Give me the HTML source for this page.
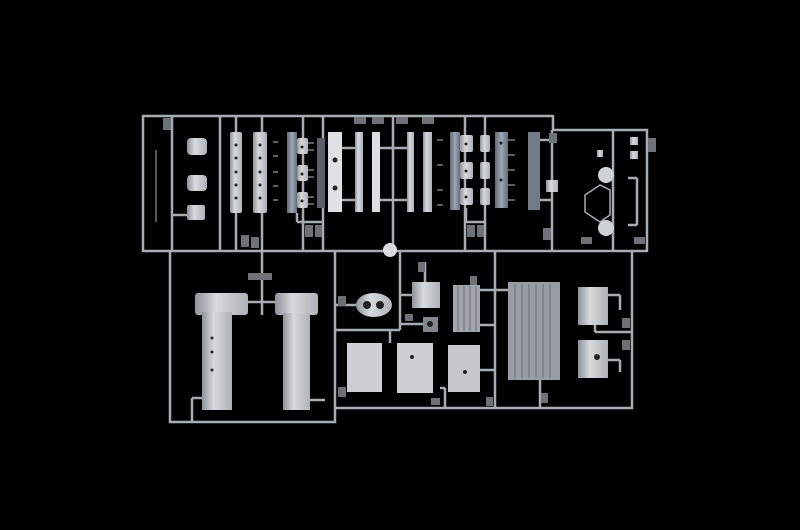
<!DOCTYPE html>
<html><head><meta charset="utf-8"><style>
html,body{margin:0;padding:0;background:#000;width:800px;height:530px;overflow:hidden}
</style></head><body>
<svg width="800" height="530" viewBox="0 0 800 530" xmlns="http://www.w3.org/2000/svg">
<defs>
<linearGradient id="p" x1="0" x2="1"><stop offset="0" stop-color="#8f949a"/><stop offset=".4" stop-color="#d8dadc"/><stop offset="1" stop-color="#aeb2b7"/></linearGradient>
<linearGradient id="b" x1="0" x2="1"><stop offset="0" stop-color="#626a78"/><stop offset=".5" stop-color="#9ea7b5"/><stop offset="1" stop-color="#656d7b"/></linearGradient>
</defs>
<rect width="800" height="530" fill="#000"/>
<g stroke="#a8acb0" stroke-width="2.5" fill="none">
<polyline points="143,252 143,116 553,116 553,130 647,130 647,252"/>
<line x1="143" y1="251" x2="647" y2="251"/>
<line x1="172" y1="116" x2="172" y2="251"/>
<line x1="220" y1="116" x2="220" y2="251"/>
<line x1="236" y1="116" x2="236" y2="132"/><line x1="236" y1="213" x2="236" y2="251"/>
<line x1="262" y1="116" x2="262" y2="251"/>
<line x1="303" y1="116" x2="303" y2="251"/>
<line x1="323" y1="116" x2="323" y2="251"/>
<line x1="393" y1="116" x2="393" y2="251"/>
<line x1="465" y1="116" x2="465" y2="251"/>
<line x1="485" y1="116" x2="485" y2="251"/>
<line x1="552" y1="130" x2="552" y2="251"/>
<line x1="613" y1="130" x2="613" y2="251"/>
<line x1="342" y1="148" x2="355" y2="148"/><line x1="342" y1="200" x2="355" y2="200"/>
<line x1="380" y1="148" x2="407" y2="148"/><line x1="380" y1="200" x2="407" y2="200"/>
<line x1="540" y1="140" x2="552" y2="140"/><line x1="540" y1="200" x2="552" y2="200"/>
<line x1="297" y1="213" x2="297" y2="222"/><line x1="297" y1="222" x2="323" y2="222"/>
<line x1="466" y1="208" x2="466" y2="222"/><line x1="466" y1="222" x2="485" y2="222"/>
<line x1="172" y1="215" x2="187" y2="215"/>
<line x1="628" y1="178" x2="637" y2="178"/><line x1="637" y1="178" x2="637" y2="225"/><line x1="628" y1="225" x2="637" y2="225"/>
<polyline points="170,251 170,422 335,422 335,251"/>
<polyline points="335,408 632,408 632,251"/>
<line x1="495" y1="251" x2="495" y2="408"/>
<line x1="335" y1="330" x2="400" y2="330"/>
<line x1="400" y1="252" x2="400" y2="330"/>
<line x1="262" y1="252" x2="262" y2="315"/>
<line x1="248" y1="302" x2="275" y2="302"/>
<line x1="335" y1="305" x2="357" y2="305"/>
<line x1="400" y1="295" x2="412" y2="295"/>
<line x1="400" y1="324" x2="423" y2="324"/>
<line x1="425" y1="262" x2="425" y2="282"/>
<line x1="480" y1="290" x2="495" y2="290"/><line x1="480" y1="325" x2="495" y2="325"/><line x1="480" y1="370" x2="495" y2="370"/>
<line x1="495" y1="290" x2="508" y2="290"/>
<line x1="540" y1="380" x2="540" y2="408"/>
<line x1="608" y1="295" x2="620" y2="295"/><line x1="620" y1="295" x2="620" y2="310"/>
<line x1="595" y1="325" x2="595" y2="332"/><line x1="595" y1="332" x2="632" y2="332"/>
<line x1="608" y1="360" x2="620" y2="360"/><line x1="620" y1="360" x2="620" y2="372"/>
<line x1="390" y1="330" x2="390" y2="343"/>
<line x1="440" y1="388" x2="445" y2="388"/><line x1="445" y1="388" x2="445" y2="408"/>
<line x1="192" y1="398" x2="192" y2="422"/><line x1="192" y1="398" x2="202" y2="398"/>
<line x1="310" y1="400" x2="325" y2="400"/>
</g>
<line x1="156" y1="150" x2="156" y2="222" stroke="#a8acb0" stroke-width="1"/>
<!-- label tabs -->
<g fill="#6e7276">
<rect x="163" y="118" width="8" height="12"/>
<rect x="241" y="235" width="8" height="12"/><rect x="251" y="237" width="8" height="11"/>
<rect x="305" y="225" width="8" height="12"/><rect x="315" y="225" width="7" height="12"/>
<rect x="354" y="117" width="12" height="7"/><rect x="372" y="117" width="12" height="7"/>
<rect x="396" y="117" width="12" height="7"/><rect x="422" y="117" width="12" height="7"/>
<rect x="467" y="225" width="8" height="12"/><rect x="477" y="225" width="7" height="12"/>
<rect x="543" y="228" width="8" height="12"/><rect x="581" y="237" width="11" height="7"/>
<rect x="634" y="237" width="11" height="7"/><rect x="549" y="133" width="8" height="10"/>
<rect x="648" y="138" width="8" height="14"/>
<rect x="248" y="273" width="24" height="7"/><rect x="338" y="296" width="8" height="10"/>
<rect x="418" y="262" width="7" height="10"/><rect x="405" y="314" width="8" height="7"/>
<rect x="470" y="276" width="7" height="10"/><rect x="338" y="387" width="8" height="10"/>
<rect x="431" y="398" width="9" height="7"/><rect x="486" y="397" width="7" height="9"/>
<rect x="541" y="393" width="7" height="10"/><rect x="622" y="318" width="8" height="10"/>
<rect x="622" y="340" width="8" height="10"/>
</g>
<circle cx="390" cy="250" r="7" fill="#d8dadc"/>
<g fill="url(#p)">
<rect x="230" y="132" width="12" height="81" rx="2"/>
<rect x="253" y="132" width="14" height="81" rx="2"/>
<rect x="328" y="132" width="14" height="80" fill="#dfe1e3"/>
<rect x="355" y="132" width="8" height="80"/>
<rect x="372" y="132" width="8" height="80" fill="#dcdee0"/>
<rect x="407" y="132" width="7" height="80"/>
<rect x="423" y="132" width="9" height="80"/>
<rect x="297" y="138" width="11" height="16" rx="2"/>
<rect x="297" y="165" width="11" height="16" rx="2"/>
<rect x="297" y="192" width="11" height="16" rx="2"/>
<rect x="460" y="135" width="13" height="17" rx="2"/>
<rect x="460" y="162" width="13" height="17" rx="2"/>
<rect x="460" y="188" width="13" height="17" rx="2"/>
<rect x="480" y="135" width="10" height="17" rx="2"/>
<rect x="480" y="162" width="10" height="17" rx="2"/>
<rect x="480" y="188" width="10" height="17" rx="2"/>
<rect x="187" y="138" width="20" height="17" rx="4"/>
<rect x="187" y="175" width="20" height="16" rx="4"/>
<rect x="187" y="205" width="18" height="15" rx="2"/>
<rect x="546" y="180" width="12" height="12"/>
<rect x="597" y="150" width="6" height="7"/>
<rect x="630" y="137" width="8" height="8"/><rect x="630" y="151" width="8" height="8"/>
</g>
<g fill="url(#b)">
<rect x="287" y="132" width="10" height="81"/>
<rect x="450" y="132" width="10" height="78"/>
<rect x="495" y="132" width="13" height="76"/>
<rect x="528" y="132" width="12" height="78" fill="#737b88"/>
<rect x="317" y="138" width="8" height="70" fill="#5a606a"/>
</g>
<!-- holes on columns -->
<g fill="#222">
<circle cx="236" cy="145" r="1.5"/><circle cx="236" cy="158" r="1.5"/><circle cx="236" cy="172" r="1.5"/><circle cx="236" cy="185" r="1.5"/><circle cx="236" cy="198" r="1.5"/>
<circle cx="260" cy="145" r="1.5"/><circle cx="260" cy="158" r="1.5"/><circle cx="260" cy="172" r="1.5"/><circle cx="260" cy="185" r="1.5"/><circle cx="260" cy="198" r="1.5"/>
<circle cx="335" cy="160" r="2.5"/><circle cx="335" cy="188" r="2.5"/>
<circle cx="302" cy="147" r="1.5"/><circle cx="302" cy="174" r="1.5"/><circle cx="302" cy="201" r="1.5"/>
<circle cx="466" cy="144" r="1.5"/><circle cx="466" cy="171" r="1.5"/><circle cx="466" cy="197" r="1.5"/>
<circle cx="501" cy="143" r="1.5"/><circle cx="501" cy="180" r="1.5"/>
</g>
<g stroke="#9a9ea2" stroke-width="1.2">
<line x1="273" y1="142" x2="278" y2="142"/><line x1="273" y1="156" x2="278" y2="156"/><line x1="273" y1="172" x2="278" y2="172"/><line x1="273" y1="186" x2="278" y2="186"/><line x1="273" y1="200" x2="278" y2="200"/>
<line x1="308" y1="143" x2="314" y2="143"/><line x1="308" y1="150" x2="314" y2="150"/><line x1="308" y1="170" x2="314" y2="170"/><line x1="308" y1="177" x2="314" y2="177"/><line x1="308" y1="197" x2="314" y2="197"/><line x1="308" y1="204" x2="314" y2="204"/>
<line x1="508" y1="140" x2="515" y2="140"/><line x1="508" y1="155" x2="515" y2="155"/><line x1="508" y1="170" x2="515" y2="170"/><line x1="508" y1="185" x2="515" y2="185"/><line x1="508" y1="200" x2="515" y2="200"/>
<line x1="437" y1="140" x2="443" y2="140"/><line x1="437" y1="165" x2="443" y2="165"/><line x1="437" y1="190" x2="443" y2="190"/><line x1="437" y1="205" x2="443" y2="205"/>
</g>
<g fill="#cfd1d4">
<circle cx="606" cy="175" r="8"/><circle cx="606" cy="228" r="8"/>
</g>
<path d="M585 195 L600 185 L610 190 L610 215 L600 222 L585 212 Z" fill="none" stroke="#a8acb0" stroke-width="1.5"/>
<g fill="url(#p)">
<rect x="195" y="293" width="53" height="22" rx="3"/>
<rect x="202" y="312" width="30" height="98"/>
<rect x="275" y="293" width="43" height="22" rx="3"/>
<rect x="283" y="313" width="27" height="97"/>
<ellipse cx="374" cy="305" rx="18" ry="12"/>
<rect x="412" y="282" width="28" height="26"/>
<rect x="423" y="317" width="15" height="15" fill="#82878d"/>
<rect x="347" y="343" width="35" height="49" fill="#cdd0d3"/>
<rect x="397" y="343" width="36" height="50" fill="#cdd0d3"/>
<rect x="448" y="345" width="32" height="47" fill="#c6c9cc"/>
<rect x="578" y="287" width="30" height="38"/>
<rect x="578" y="340" width="30" height="38"/>
</g>
<rect x="453" y="285" width="27" height="47" fill="#a2a6ab"/>
<rect x="508" y="282" width="52" height="98" fill="#989da3"/>
<g stroke="#6a6f75" stroke-width="1">
<line x1="458" y1="286" x2="458" y2="331"/><line x1="464" y1="286" x2="464" y2="331"/><line x1="470" y1="286" x2="470" y2="331"/><line x1="476" y1="286" x2="476" y2="331"/>
<line x1="515" y1="284" x2="515" y2="378"/><line x1="522" y1="284" x2="522" y2="378"/><line x1="529" y1="284" x2="529" y2="378"/><line x1="536" y1="284" x2="536" y2="378"/><line x1="543" y1="284" x2="543" y2="378"/><line x1="550" y1="284" x2="550" y2="378"/>
</g>
<g fill="#222"><circle cx="367" cy="305" r="4"/><circle cx="380" cy="305" r="4"/><circle cx="430" cy="324" r="3"/>
<circle cx="212" cy="338" r="1.5"/><circle cx="212" cy="352" r="1.5"/><circle cx="212" cy="370" r="1.5"/><circle cx="412" cy="357" r="2"/><circle cx="465" cy="372" r="2"/><circle cx="597" cy="357" r="3"/></g>
</svg>
</body></html>
